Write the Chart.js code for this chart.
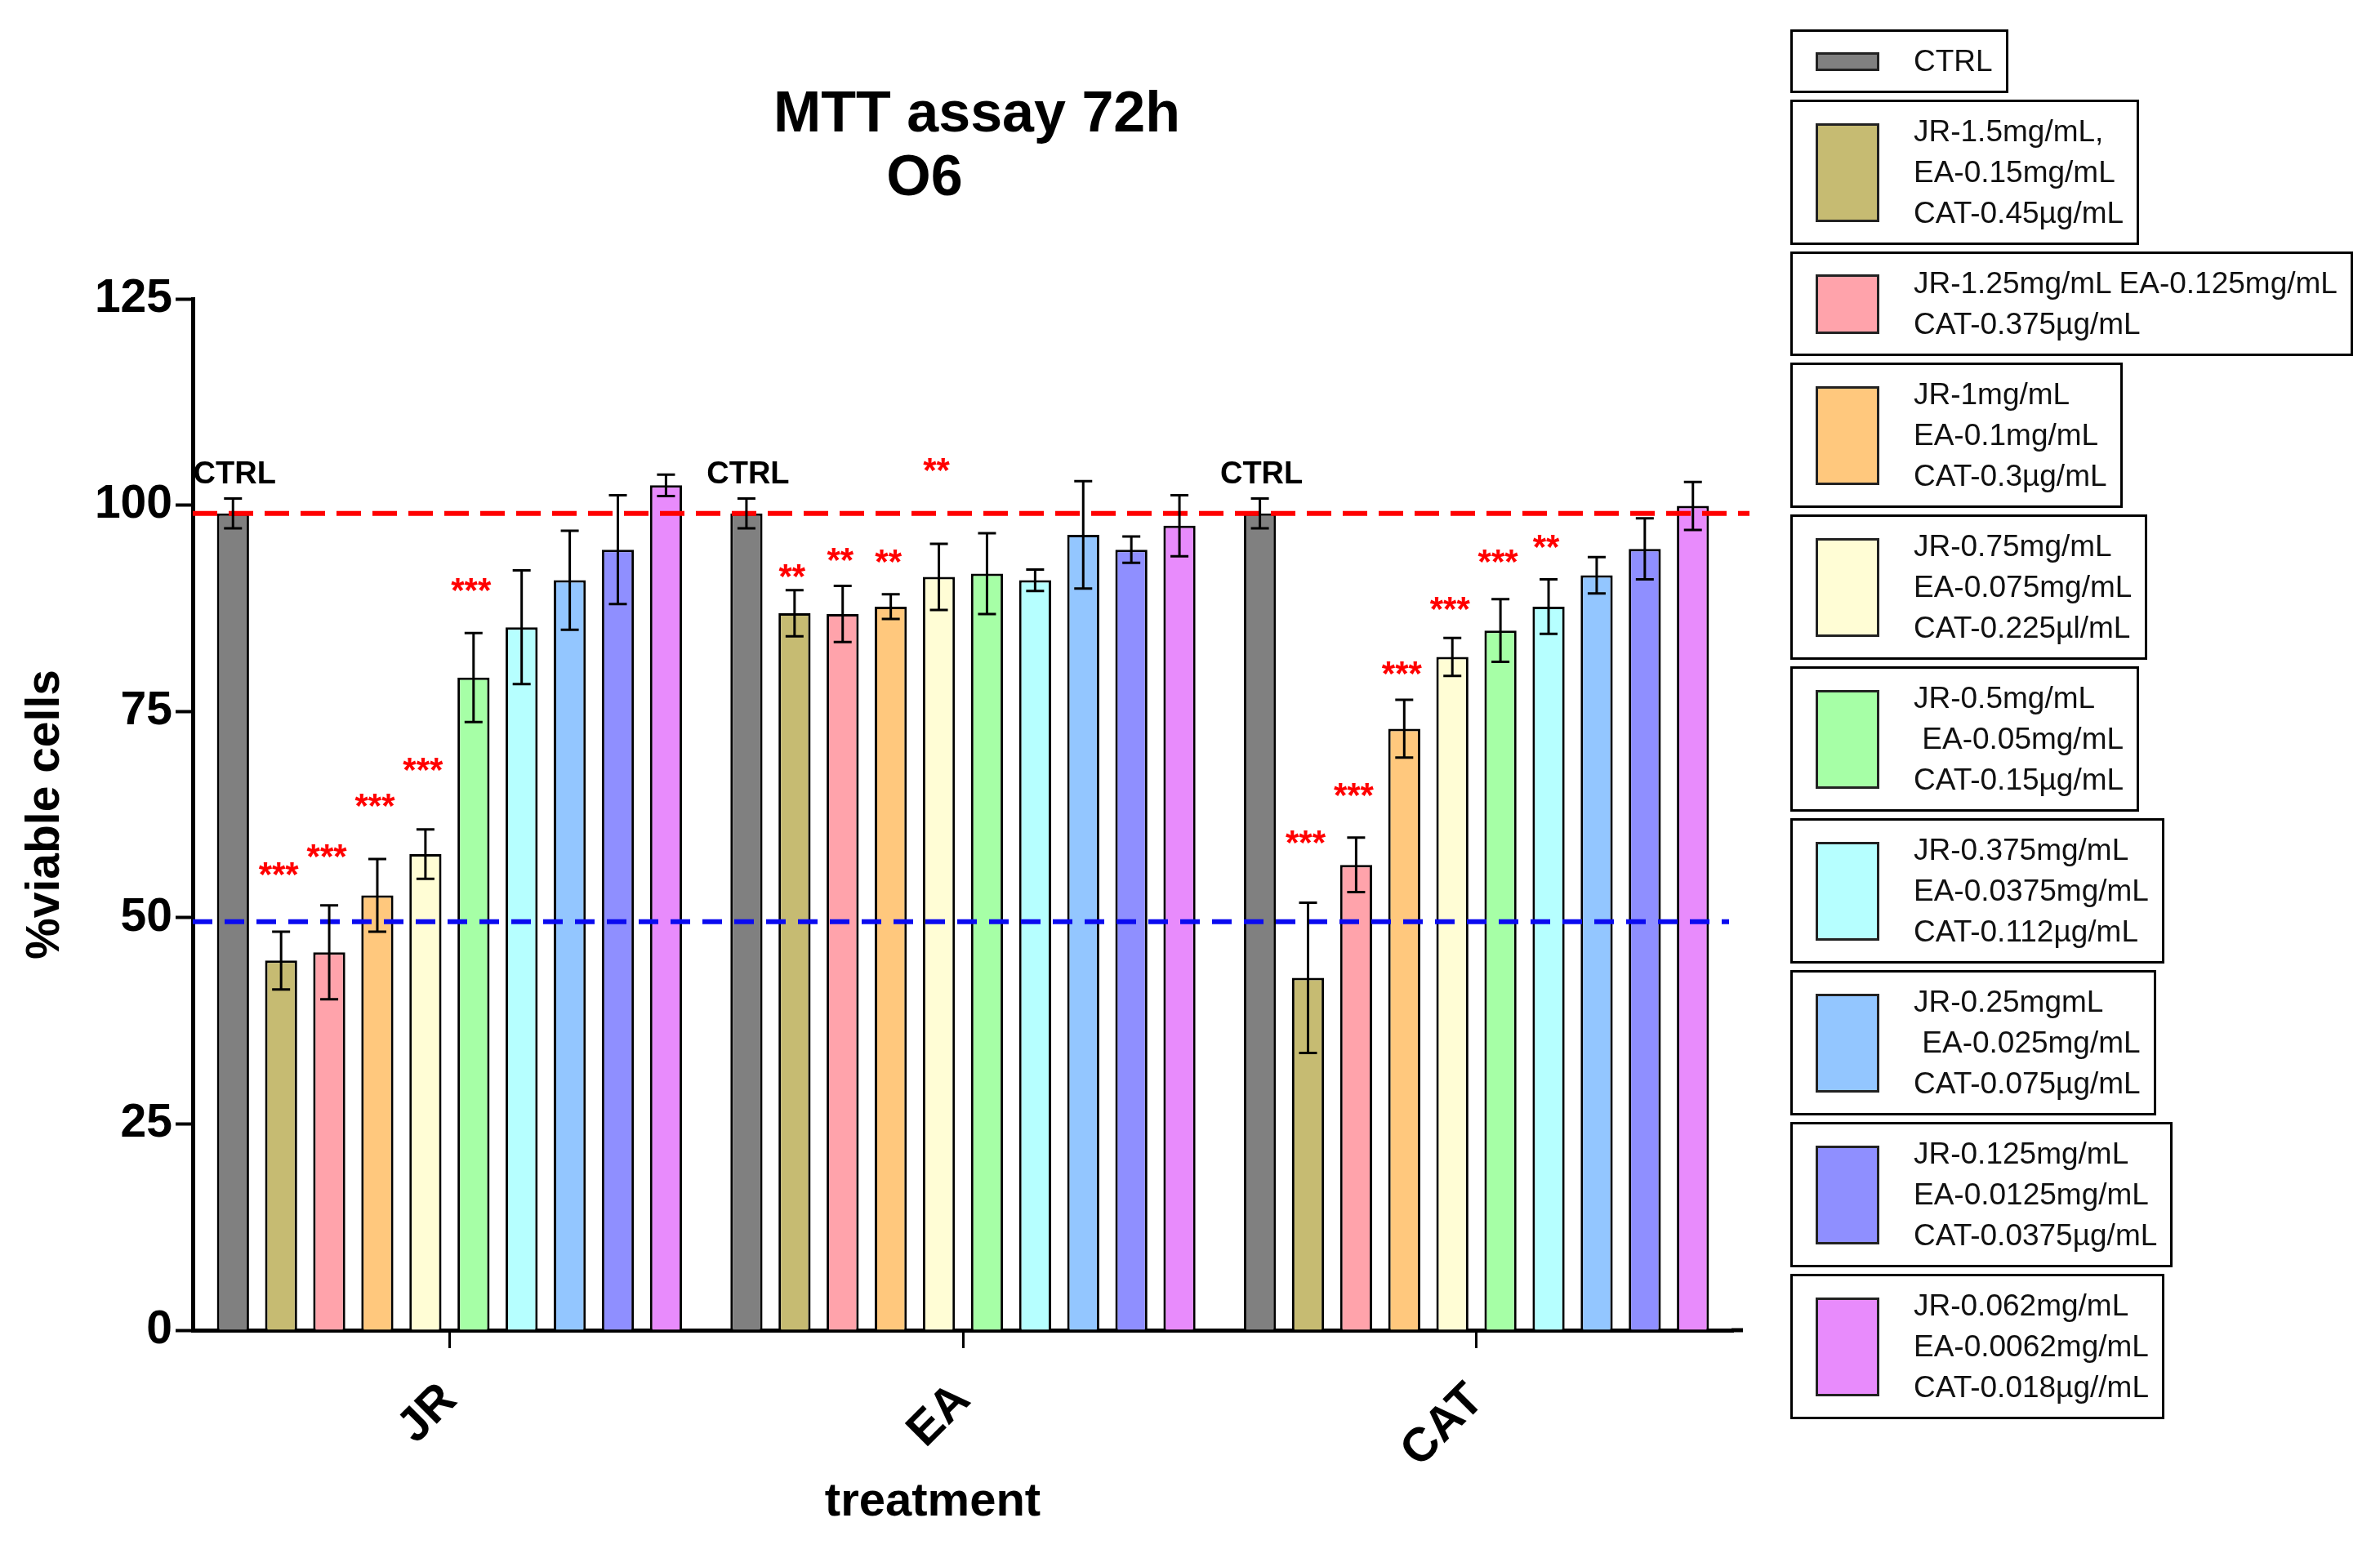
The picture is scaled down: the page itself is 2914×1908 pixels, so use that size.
<!DOCTYPE html>
<html>
<head>
<meta charset="utf-8">
<title>MTT assay 72h O6</title>
<script src="https://cdn.jsdelivr.net/npm/chart.js@4.4.1/dist/chart.umd.min.js"></script>
<style>
  html, body { margin: 0; padding: 0; background: #fff; }
  #wrap { position: relative; width: 2914px; height: 1908px; }
  #legend {
    position: absolute; left: 2192px; top: 36px;
    display: flex; flex-direction: column; align-items: flex-start; gap: 8px;
    font-family: "Liberation Sans", Arial, sans-serif; font-size: 37px; color: #111;
  }
  .item { display: flex; align-items: center; border: 3px solid #000; padding: 11px 16px 11px 28px; background: #fff; }
  .sw { width: 72px; border: 3px solid #222; margin-right: 42px; flex: none; }
  .txt { white-space: pre; line-height: 50px; }
</style>
</head>
<body>
<div id="wrap">
  <canvas id="mtt"></canvas>
  <div id="legend"></div>
</div>
<script>
// groups on the x axis
const categories = ['JR', 'EA', 'CAT'];

// one series per concentration (legend order)
const legendLines = [
  ['CTRL'],
  ['JR-1.5mg/mL,', 'EA-0.15mg/mL', 'CAT-0.45µg/mL'],
  ['JR-1.25mg/mL EA-0.125mg/mL', 'CAT-0.375µg/mL'],
  ['JR-1mg/mL', 'EA-0.1mg/mL', 'CAT-0.3µg/mL'],
  ['JR-0.75mg/mL', 'EA-0.075mg/mL', 'CAT-0.225µl/mL'],
  ['JR-0.5mg/mL', ' EA-0.05mg/mL', 'CAT-0.15µg/mL'],
  ['JR-0.375mg/mL', 'EA-0.0375mg/mL', 'CAT-0.112µg/mL'],
  ['JR-0.25mgmL', ' EA-0.025mg/mL', 'CAT-0.075µg/mL'],
  ['JR-0.125mg/mL', 'EA-0.0125mg/mL', 'CAT-0.0375µg/mL'],
  ['JR-0.062mg/mL', 'EA-0.0062mg/mL', 'CAT-0.018µg//mL']
];
const seriesColors = ['#808080', '#C6BB72', '#FFA3AB', '#FFC87D', '#FFFDD5',
                      '#A6FFA6', '#B6FFFF', '#93C6FF', '#8F8FFF', '#E88BFC'];

// % viable cells, mean and error, per group (10 series each)
const jrMeans  = [99.0, 44.8, 45.8, 52.7, 57.7, 79.1, 85.2, 90.9, 94.6, 102.4];
const jrErr    = [1.8, 3.5, 5.7, 4.4, 3.0, 5.4, 6.9, 6.0, 6.6, 1.3];
const eaMeans  = [99.0, 86.9, 86.8, 87.7, 91.3, 91.7, 90.9, 96.4, 94.6, 97.5];
const eaErr    = [1.8, 2.8, 3.4, 1.5, 4.0, 4.9, 1.3, 6.5, 1.6, 3.7];
const catMeans = [99.0, 42.7, 56.4, 72.9, 81.6, 84.8, 87.7, 91.5, 94.7, 99.9];
const catErr   = [1.8, 9.1, 3.3, 3.5, 2.3, 3.8, 3.3, 2.2, 3.7, 2.9];

// significance marks and the value where each sits
const jrStars   = ['', '***', '***', '***', '***', '***', '', '', '', ''];
const jrStarY   = [0, 56.1, 58.3, 64.4, 68.8, 90.6, 0, 0, 0, 0];
const eaStars   = ['', '**', '**', '**', '**', '', '', '', '', ''];
const eaStarY   = [0, 92.2, 94.2, 94.0, 105.1, 0, 0, 0, 0, 0];
const catStars  = ['', '***', '***', '***', '***', '***', '**', '', '', ''];
const catStarY  = [0, 60.0, 65.7, 80.5, 88.3, 94.0, 95.8, 0, 0, 0];
const ctrlLabelY = 102.6;

// reference lines
const ctrlLine = 99;
const halfLine = 49.5;

const yTicks = [0, 25, 50, 75, 100, 125];

const means = [jrMeans, eaMeans, catMeans];
const errs = [jrErr, eaErr, catErr];
const stars = [jrStars, eaStars, catStars];
const starY = [jrStarY, eaStarY, catStarY];

const FONT = '"Liberation Sans", Arial, sans-serif';

// html legend
const legendEl = document.getElementById('legend');
legendLines.forEach((lines, i) => {
  const item = document.createElement('div');
  item.className = 'item';
  const sw = document.createElement('div');
  sw.className = 'sw';
  sw.style.background = seriesColors[i];
  sw.style.height = (lines.length === 1 ? 17 : lines.length === 2 ? 67 : 115) + 'px';
  const txt = document.createElement('div');
  txt.className = 'txt';
  txt.textContent = lines.join('\n');
  item.appendChild(sw);
  item.appendChild(txt);
  legendEl.appendChild(item);
});

const refLines = {
  id: 'refLines',
  afterDatasetsDraw(chart) {
    const {ctx, chartArea, scales: {y}} = chart;
    ctx.save();
    ctx.lineWidth = 6;
    ctx.setLineDash([30, 14]);
    ctx.strokeStyle = '#FF0000';
    let py = y.getPixelForValue(ctrlLine);
    ctx.beginPath(); ctx.moveTo(chartArea.left, py); ctx.lineTo(chartArea.right + 20, py); ctx.stroke();
    ctx.strokeStyle = '#0A0AF0';
    ctx.setLineDash([24, 15]);
    py = y.getPixelForValue(halfLine);
    ctx.beginPath(); ctx.moveTo(chartArea.left, py); ctx.lineTo(chartArea.right - 5, py); ctx.stroke();
    ctx.restore();
  }
};

const errorBars = {
  id: 'errorBars',
  afterDatasetsDraw(chart) {
    const {ctx, scales: {y}} = chart;
    ctx.save();
    ctx.strokeStyle = '#000';
    ctx.lineWidth = 3;
    chart.data.datasets.forEach((ds, i) => {
      chart.getDatasetMeta(i).data.forEach((bar, j) => {
        const v = ds.data[j], e = errs[j][i];
        const top = y.getPixelForValue(v + e), bot = y.getPixelForValue(v - e);
        ctx.beginPath();
        ctx.moveTo(bar.x, top); ctx.lineTo(bar.x, bot);
        ctx.moveTo(bar.x - 11, top); ctx.lineTo(bar.x + 11, top);
        ctx.moveTo(bar.x - 11, bot); ctx.lineTo(bar.x + 11, bot);
        ctx.stroke();
      });
    });
    // stars
    ctx.fillStyle = '#FF0000';
    ctx.font = 'bold 42px ' + FONT;
    ctx.textAlign = 'center';
    ctx.textBaseline = 'alphabetic';
    chart.data.datasets.forEach((ds, i) => {
      chart.getDatasetMeta(i).data.forEach((bar, j) => {
        if (!stars[j][i]) return;
        ctx.fillText(stars[j][i], bar.x - 3, y.getPixelForValue(starY[j][i]) + 23);
      });
    });
    // CTRL labels above control bars
    ctx.fillStyle = '#000';
    ctx.font = 'bold 38px ' + FONT;
    chart.getDatasetMeta(0).data.forEach(bar => {
      ctx.fillText('CTRL', bar.x + 2, y.getPixelForValue(ctrlLabelY));
    });
    ctx.restore();
  }
};

const titleText = {
  id: 'titleText',
  afterDraw(chart) {
    const {ctx, chartArea} = chart;
    ctx.save();
    ctx.fillStyle = '#000';
    ctx.textAlign = 'center';
    ctx.textBaseline = 'alphabetic';
    ctx.font = 'bold 70px ' + FONT;
    ctx.fillText('MTT assay 72h', 1196, 161);
    ctx.fillText('O6', 1132, 239);
    // x axis title sits a little left of the axis centre
    ctx.font = 'bold 58px ' + FONT;
    ctx.fillText('treatment', 1142, 1856);
    // axis line runs a bit past the last group
    ctx.fillRect(chartArea.right - 2, chartArea.bottom - 2.5, 14, 5);
    ctx.restore();
  }
};

const datasets = legendLines.map((lines, i) => ({
  label: lines.join(' '),
  data: means.map(m => m[i]),
  backgroundColor: seriesColors[i],
  borderColor: '#000',
  borderWidth: 3,
  categoryPercentage: 0.937,
  barPercentage: 0.667
}));

new Chart(document.getElementById('mtt'), {
  type: 'bar',
  data: { labels: categories, datasets },
  options: {
    responsive: true,
    maintainAspectRatio: false,
    devicePixelRatio: 1,
    animation: false,
    layout: { padding: { left: 0, top: 366, right: 792, bottom: 0 } },
    plugins: {
      legend: { display: false },
      tooltip: { enabled: false }
    },
    scales: {
      x: {
        offset: true,
        afterFit: s => { s.height = 279; },
        grid: { display: true, offset: false, drawOnChartArea: false, drawTicks: true, tickLength: 22, tickWidth: 3, color: '#000' },
        border: { display: true, width: 5, color: '#000' },
        ticks: { color: '#000', font: { family: FONT, size: 58, weight: 'bold' }, maxRotation: 45, minRotation: 45, autoSkip: false, padding: 30 },
        title: { display: false }
      },
      y: {
        min: 0, max: 125,
        afterFit: s => { s.width = 236; },
        afterBuildTicks: s => { s.ticks = yTicks.map(v => ({ value: v })); },
        grid: { display: true, drawOnChartArea: false, drawTicks: true, tickLength: 21, tickWidth: 4, color: '#000' },
        border: { display: true, width: 5, color: '#000' },
        ticks: { color: '#000', font: { family: FONT, size: 57, weight: 'bold' }, padding: 4 },
        title: { display: true, text: '%viable cells', color: '#000', font: { family: FONT, size: 57, weight: 'bold' }, padding: { top: 22, bottom: 0 } }
      }
    }
  },
  plugins: [refLines, errorBars, titleText]
});
</script>
</body>
</html>
